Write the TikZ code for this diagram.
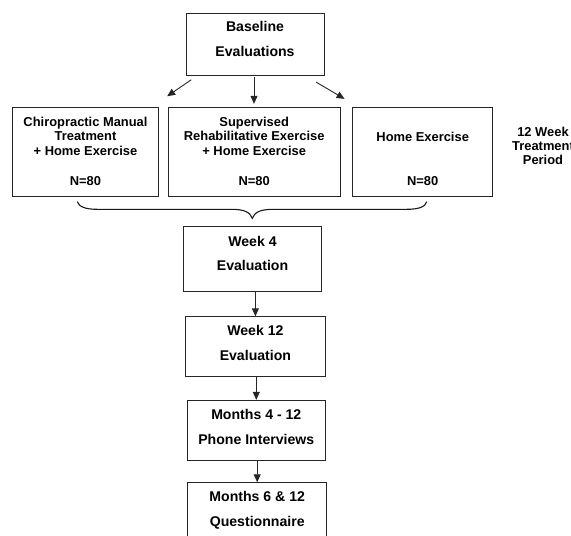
\documentclass[tikz,border=0pt]{standalone}
\usepackage{fontspec}
\setmainfont{Liberation Sans}
\usetikzlibrary{arrows.meta}
\begin{document}
\begin{tikzpicture}[x=1pt,y=-1pt,
  box/.style={draw=black!85, line width=0.9pt, inner sep=0pt},
  big/.style={font=\fontsize{14.1}{25}\selectfont\bfseries, align=center, inner sep=0pt, anchor=north},
  small/.style={font=\fontsize{12.9}{14.5}\selectfont\bfseries, align=center, inner sep=0pt, anchor=north},
  arr/.style={line width=0.9pt, draw=black!85, -{Triangle[length=8pt,width=7pt]}},
  bracestyle/.style={line width=1.1pt, draw=black!90}
]
\useasboundingbox (0,0) rectangle (571,536);
\clip (0,0) rectangle (571,536);

% boxes
\node[box, minimum width=138pt, minimum height=62pt] (base) at (255,44) {};
\node[box, minimum width=145.6pt, minimum height=89.4pt] (box1) at (85.5,152) {};
\node[box, minimum width=171.7pt, minimum height=89.4pt] (box2) at (254.2,152) {};
\node[box, minimum width=140pt, minimum height=89.4pt] (box3) at (422.7,152) {};
\node[box, minimum width=138.4pt, minimum height=65pt] (week4) at (252.5,259.2) {};
\node[box, minimum width=140.7pt, minimum height=59.3pt] (week12) at (255.4,346.4) {};
\node[box, minimum width=138pt, minimum height=60.4pt] (months) at (256.3,430.5) {};
\node[box, minimum width=139pt, minimum height=62pt] (last) at (257.2,513.7) {};

% texts
\node[big] (tbase) at ([shift={(0,9)}]base.north) {Baseline\\Evaluations};
\node[small] (t1) at ([shift={(0,10)}]box1.north) {Chiropractic Manual\\Treatment\\+ Home Exercise\\[15.5pt]N=80};
\node[small] (t2) at ([shift={(0,9.6)}]box2.north) {Supervised\\Rehabilitative Exercise\\+ Home Exercise\\[15.5pt]N=80};
\node[small] (t3) at ([shift={(0,24.8)}]box3.north) {Home Exercise\\[29.3pt]N=80};
\node[small] (period) at (543,127.4) {12 Week\\[-0.5pt]Treatment\\[-0.5pt]Period};
\node[big] (tw4) at ([shift={(0,10)}]week4.north) {Week 4\\[-1pt]Evaluation};
\node[big] (tw12) at ([shift={(0,8.5)}]week12.north) {Week 12\\Evaluation};
\node[big] (tm) at ([shift={(0,9.5)}]months.north) {Months 4 - 12\\Phone Interviews};
\node[big] (tl) at ([shift={(0,9)}]last.north) {Months 6 \& 12\\Questionnaire};

% arrows
\draw[arr] ([shift={(5.7,4.3)}]base.south west) -- ([shift={(8.4,-10.6)}]box1.north east);
\draw[arr] ([shift={(-1,2)}]base.south) -- ([shift={(-0.2,-3)}]box2.north);
\draw[arr] ([shift={(-8.3,6.7)}]base.south east) -- ([shift={(-7.7,-8)}]box3.north west);
\draw[arr] (week12.north |- week4.south) -- (week12.north);
\draw[arr] (months.north |- week12.south) -- (months.north);
\draw[arr] (last.north |- months.south) -- (last.north);

% brace
\coordinate (bl) at (77.3,201.7);
\coordinate (btip) at (252.3,218.3);
\coordinate (br) at (426.7,201.7);
\draw[bracestyle] (bl) .. controls (79,207) and (86,209.3) .. (97,209.3) -- (231,209.3)
  .. controls (244,209.3) and (250,212) .. (btip)
  .. controls (254.6,212) and (260.6,209.3) .. (273.6,209.3) -- (407,209.3)
  .. controls (418,209.3) and (425.6,207) .. (br);
\end{tikzpicture}
\end{document}
